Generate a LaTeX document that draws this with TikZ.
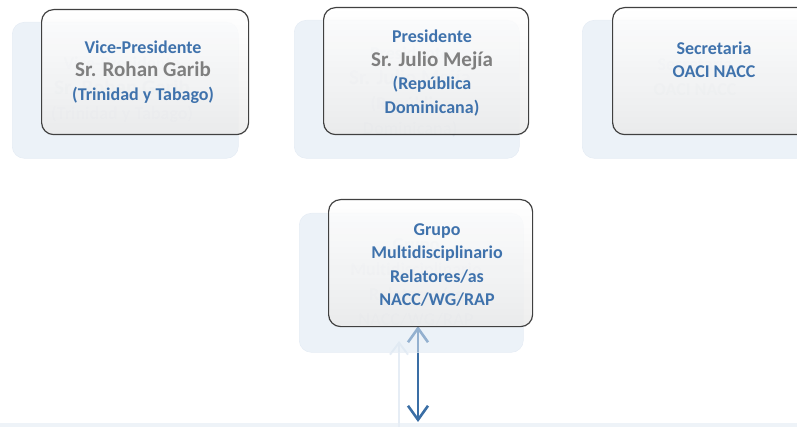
\documentclass[tikz,border=0pt]{standalone}
\usepackage{fontspec}
\setmainfont{Carlito}[Ligatures=NoCommon]
\usetikzlibrary{arrows.meta}
\definecolor{txtblue}{HTML}{3F72AC}
\definecolor{txtgray}{HTML}{7F7F7F}
\definecolor{shadefill}{HTML}{DDE8F3}
\definecolor{ghosttxt}{HTML}{DCE5F0}
\definecolor{ghostline}{HTML}{E6EDF5}
\definecolor{framecol}{HTML}{404040}
\definecolor{arrowblue}{HTML}{3A6EA5}
\definecolor{bandcol}{HTML}{EEF3F8}
\tikzset{
  shadowbox/.style={rounded corners=12pt, fill=shadefill, fill opacity=0.55, draw=ghostline, line width=0.6pt},
  frontbox/.style={rounded corners=12pt, draw=framecol, line width=1.2pt, top color=white, bottom color=black!8, fill opacity=0.85},
  bluetxt/.style={text=txtblue, align=center, font=\fontsize{18}{23.5}\selectfont\bfseries},
  ghost/.style={text=ghosttxt, align=center, font=\fontsize{18}{25}\selectfont\bfseries},
}
\newcommand{\graytxt}[1]{{\fontsize{21}{25}\selectfont\color{txtgray}#1}}
\newcommand{\ghostgray}[1]{{\fontsize{21}{27}\selectfont #1}}
\begin{document}
\begin{tikzpicture}[x=1pt,y=-1pt]
\useasboundingbox (0,0) rectangle (797,427);
\clip (0,0) rectangle (797,427);

% bottom band
\fill[bandcol] (0,423) rectangle (797,428);

% ghost arrow
\coordinate (gtop) at (399,341);
\coordinate (gbot) at (399,428);
\draw[ghostline, line width=2pt, -{Straight Barb[length=12pt,width=18pt]}] (gbot) -- (gtop);

% main arrow (drawn before shadow box 4, so its top part looks faded)
\coordinate (abot) at (418,422);
\coordinate (atop) at (418,326);
\draw[arrowblue, line width=2.6pt, {Straight Barb[length=14pt,width=20pt]}-{Straight Barb[length=14pt,width=20pt]}] (atop) -- (abot);

% shadow boxes
\node[shadowbox, minimum width=226pt, minimum height=136pt, anchor=north west] (s1) at (12,22) {};
\node[shadowbox, minimum width=225pt, minimum height=138pt, anchor=north west] (s2) at (294,20) {};
\node[shadowbox, minimum width=226pt, minimum height=138pt, anchor=north west] (s3) at (582,20) {};
\node[shadowbox, minimum width=224pt, minimum height=139pt, anchor=north west] (s4) at (299,213) {};

% ghost texts
\node[ghost] (gt1) at (122,90) {Vice-Presidente\\\ghostgray{Sr. Rohan Garib}\\(Trinidad y Tabago)};
\node[ghost] (gt2) at (410,92) {Presidente\\\ghostgray{Sr. Julio Mejía}\\(República\\Dominicana)};
\node[ghost] (gt3) at (695,77) {Secretaria\\OACI NACC};
\node[ghost] (gt4) at (416,283) {Grupo\\Multidisciplinario\\Relatores/as\\NACC/WG/RAP};

% front boxes
\node[frontbox, minimum width=207pt, minimum height=125pt, anchor=north west] (b1) at (41,9) {};
\node[frontbox, minimum width=205pt, minimum height=127pt, anchor=north west] (b2) at (323,7) {};
\node[frontbox, minimum width=205pt, minimum height=127pt, anchor=north west] (b3) at (612,7) {};
\node[frontbox, minimum width=204pt, minimum height=127pt, anchor=north west] (b4) at (328,199) {};

% front texts
\node[bluetxt] (t1) at (143,72) {Vice-Presidente\\\graytxt{Sr. Rohan Garib}\\(Trinidad y Tabago)};
\node[bluetxt] (t2) at (432,73) {Presidente\\\graytxt{Sr. Julio Mejía}\\(República\\Dominicana)};
\node[bluetxt] (t3) at (714,60) {Secretaria\\OACI NACC};
\node[bluetxt] (t4) at (437,265) {Grupo\\Multidisciplinario\\Relatores/as\\NACC/WG/RAP};
\end{tikzpicture}
\end{document}
